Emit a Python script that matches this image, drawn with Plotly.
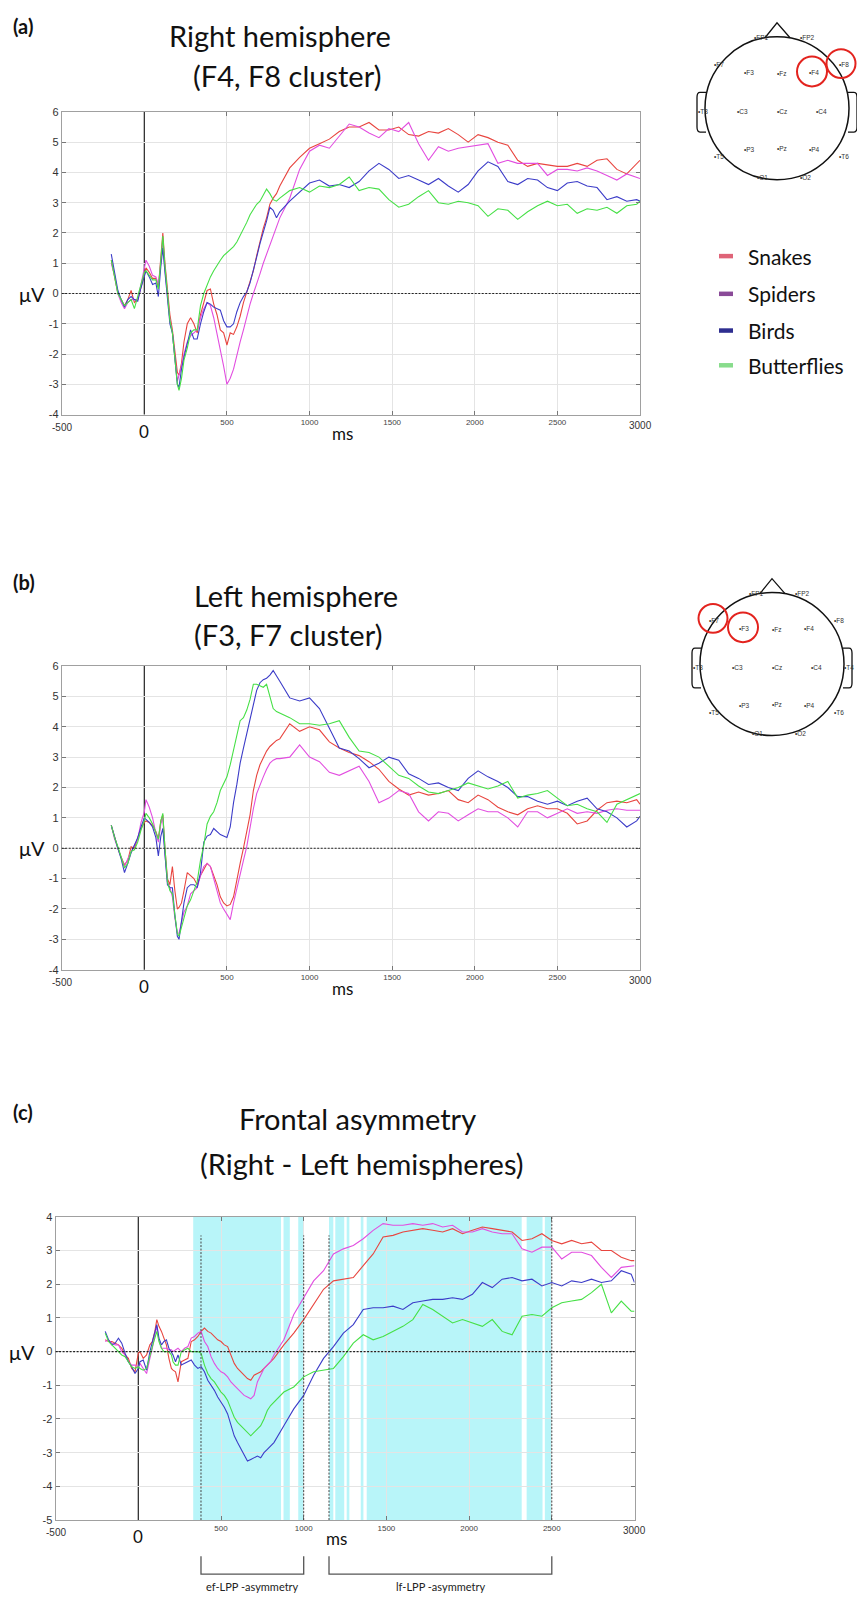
import plotly.graph_objects as go

W, H = 857, 1600
TITLE_FONT = "Lato"
TICK_FONT = "Liberation Sans"

# ---------------- data ----------------
time_ms = [-200, -180, -160, -140, -120, -100, -80, -60, -40, -20,
           0, 10, 30, 50, 70, 85, 100, 112, 125, 140, 155, 170, 185, 200, 210, 225, 240,
           260, 280, 300, 320, 340, 360, 380, 400, 420, 440, 460, 480, 500, 520, 540, 560, 580, 600,
           620, 640, 660, 680, 700, 720, 740, 760, 780, 800,
           820, 880, 940, 1000, 1060, 1120, 1180, 1240, 1300, 1360, 1420, 1480, 1540, 1600, 1660,
           1720, 1780, 1840, 1900, 1960, 2020, 2080, 2140, 2200, 2260, 2320, 2380, 2440, 2500,
           2560, 2620, 2680, 2740, 2800, 2860, 2920, 2980, 3000]

categories = ["Snakes", "Spiders", "Birds", "Butterflies"]
line_colors = ["#e8453f", "#e24ee0", "#3c3cc8", "#46e046"]
legend_colors = ["#df6478", "#8a4a98", "#2e2e90", "#88dc8c"]

# (a) Right hemisphere (F4, F8 cluster)
a_snakes = [1.1, 0.6, 0.0, -0.2, -0.4, -0.2, 0.1, -0.3, -0.2, 0.2,
            0.7, 0.85, 0.7, 0.5, 0.5, 0.2, 1.2, 2.0, 1.0, 0.1, -0.7, -1.2, -2.0, -2.6, -2.7, -2.3, -1.6,
            -1.0, -0.8, -1.0, -1.3, -0.7, -0.3, 0.1, 0.15, -0.35, -0.7, -1.2, -1.3, -1.7, -1.3, -1.35, -1.1, -0.75, -0.3,
            0.05, 0.4, 0.75, 1.25, 1.75, 2.15, 2.5, 2.95, 3.15, 3.3,
            3.55, 4.15, 4.5, 4.8, 4.95, 5.1, 5.35, 5.5, 5.5, 5.65, 5.4, 5.4, 5.5, 5.25, 5.2,
            5.35, 5.3, 5.45, 5.25, 5.0, 5.25, 5.15, 5.0, 4.9, 4.4, 4.2, 4.3, 4.25, 4.2,
            4.2, 4.3, 4.2, 4.4, 4.45, 4.1, 3.95, 4.3, 4.4]
a_spiders = [1.0, 0.6, 0.0, -0.3, -0.5, -0.3, -0.2, -0.2, -0.2, 0.3,
             0.9, 1.1, 0.9, 0.6, 0.55, 0.3, 1.0, 1.7, 0.8, 0.0, -0.9, -1.3, -2.2, -2.9, -2.7, -2.4, -2.0,
             -1.6, -1.4, -1.3, -1.2, -0.8, -0.5, -0.3, -0.4, -0.8, -1.3, -1.8, -2.4, -3.0, -2.8, -2.5, -2.0, -1.6, -1.2,
             -0.75, -0.35, 0.0, 0.3, 0.65, 1.0, 1.3, 1.6, 1.95, 2.2,
             2.5, 3.15, 4.1, 4.7, 4.9, 4.8, 5.2, 5.6, 5.5, 5.3, 5.15, 5.45, 5.35, 5.65, 4.95,
             4.4, 4.85, 4.7, 4.8, 4.85, 4.9, 4.95, 4.3, 4.4, 4.3, 4.3, 4.3, 3.9, 4.1,
             4.1, 4.05, 4.15, 4.05, 3.9, 3.75, 3.95, 3.85, 3.8]
a_birds = [1.3, 0.7, 0.1, -0.2, -0.45, -0.2, -0.1, -0.2, -0.25, 0.2,
           0.6, 0.75, 0.55, 0.3, 0.35, -0.1, 0.9, 1.5, 0.7, -0.1, -1.0, -1.3, -2.3, -3.0, -3.1, -2.5, -2.1,
           -1.6, -1.2, -1.5, -1.5, -1.0, -0.6, -0.3, -0.35, -0.45, -0.5, -0.55, -0.9, -1.1, -1.1, -1.0, -0.6, -0.3, -0.1,
           0.05, 0.35, 0.75, 1.2, 1.65, 2.0, 2.4, 2.85, 2.75, 2.5,
           2.7, 3.05, 3.35, 3.65, 3.75, 3.55, 3.6, 3.5, 3.7, 4.05, 4.3, 4.1, 3.8, 3.9, 3.75,
           3.6, 3.8, 3.55, 3.35, 3.6, 4.05, 4.35, 4.2, 3.7, 3.6, 3.8, 3.75, 3.5, 3.4,
           3.65, 3.7, 3.55, 3.5, 3.1, 3.2, 3.05, 3.1, 3.05]
a_butterflies = [1.1, 0.6, 0.0, -0.2, -0.4, -0.3, -0.2, -0.5, -0.1, 0.3,
                 0.7, 0.75, 0.6, 0.45, 0.45, 0.15, 1.1, 1.9, 0.9, 0.0, -0.9, -1.3, -2.3, -3.0, -3.2, -2.8, -2.2,
                 -1.8, -1.3, -1.2, -1.2, -0.4, 0.0, 0.3, 0.55, 0.75, 0.95, 1.1, 1.25, 1.35, 1.45, 1.55, 1.7, 1.9, 2.1,
                 2.35, 2.6, 2.8, 2.95, 3.05, 3.25, 3.45, 3.3, 3.1, 3.05,
                 3.15, 3.4, 3.5, 3.35, 3.55, 3.5, 3.6, 3.85, 3.4, 3.5, 3.45, 3.1, 2.85, 2.95, 3.2,
                 3.4, 3.0, 2.95, 3.05, 3.0, 2.9, 2.55, 2.8, 2.75, 2.45, 2.7, 2.9, 3.05, 2.9,
                 2.95, 2.65, 2.8, 2.75, 2.85, 2.65, 2.9, 2.95, 3.05]

# (b) Left hemisphere (F3, F7 cluster)
b_snakes = [0.75, 0.35, 0.0, -0.3, -0.55, -0.4, 0.05, 0.0, 0.3, 0.65,
            0.85, 0.9, 0.85, 0.75, 0.55, 0.3, 0.9, 1.1, 0.0, -1.0, -1.2, -0.6, -1.4, -2.0, -1.95, -1.8, -1.4,
            -0.8, -0.9, -1.0, -1.2, -0.9, -0.7, -0.5, -0.6, -0.9, -1.2, -1.6, -1.8, -1.9, -1.85, -1.6, -1.0, -0.5, 0.0,
            0.5, 1.1, 1.9, 2.4, 2.75, 3.0, 3.2, 3.35, 3.45, 3.55,
            3.6, 4.1, 3.85, 4.0, 3.9, 3.5, 3.3, 3.15, 3.05, 2.85, 2.6, 2.2, 1.95, 1.75, 1.85,
            1.75, 1.8, 1.9, 1.6, 1.5, 1.75, 1.6, 1.35, 1.2, 1.1, 1.3, 1.4, 1.3, 1.3,
            1.15, 0.8, 0.9, 1.25, 1.5, 1.55, 1.5, 1.6, 1.45]
b_spiders = [0.75, 0.3, 0.0, -0.3, -0.6, -0.35, -0.1, 0.1, 0.3, 0.85,
             1.2, 1.6, 1.35, 1.0, 0.5, 0.2, 0.8, 1.0, -0.2, -1.1, -1.3, -1.6, -2.3, -2.8, -2.8, -2.4, -2.1,
             -1.9, -1.5, -1.4, -1.3, -0.9, -0.6, -0.5, -0.6, -1.0, -1.4, -1.8, -2.0, -2.2, -2.35, -1.8, -1.3, -0.8, -0.4,
             0.05, 0.7, 1.3, 1.8, 2.1, 2.35, 2.6, 2.8, 2.9, 2.95,
             2.95, 3.0, 3.4, 3.0, 2.85, 2.5, 2.4, 2.55, 2.7, 2.2, 1.5, 1.65, 1.9, 1.8, 1.2,
             0.9, 1.2, 1.15, 0.9, 1.1, 1.3, 1.2, 1.2, 1.0, 0.7, 1.2, 1.2, 1.0, 1.15,
             1.3, 1.15, 1.2, 1.15, 1.25, 1.3, 1.25, 1.25, 1.25]
b_birds = [0.75, 0.35, 0.0, -0.35, -0.8, -0.5, -0.15, 0.1, 0.35, 0.7,
           1.0, 0.95, 0.85, 0.7, 0.35, -0.25, 0.4, 0.65, -0.3, -1.2, -1.3, -1.3, -2.2, -2.9, -3.0, -2.4, -1.8,
           -1.3, -1.2, -1.2, -1.3, -0.8, 0.2, 0.4, 0.45, 0.65, 0.55, 0.45, 0.4, 0.35, 0.7, 1.5, 2.1, 2.8, 3.3,
           3.75, 4.25, 4.75, 5.2, 5.45, 5.55, 5.6, 5.7, 5.85, 5.65,
           5.5, 4.95, 4.85, 4.95, 4.6, 3.95, 3.3, 3.2, 2.95, 2.65, 2.8, 3.0, 2.9, 2.45, 2.3,
           2.1, 2.15, 2.0, 1.9, 2.3, 2.55, 2.35, 2.2, 2.0, 1.7, 1.7, 1.55, 1.45, 1.55,
           1.4, 1.55, 1.65, 1.3, 1.2, 1.0, 0.7, 0.9, 1.05]
b_butterflies = [0.75, 0.35, 0.05, -0.3, -0.65, -0.5, -0.1, -0.05, 0.2, 0.6,
                 0.9, 1.15, 1.0, 0.8, 0.5, 0.3, 0.9, 1.15, 0.0, -1.1, -1.4, -1.5, -2.2, -2.8, -2.9, -2.6, -2.3,
                 -1.9, -1.7, -1.4, -1.1, -0.4, 0.1, 0.8, 1.05, 1.2, 1.5, 1.9, 2.15, 2.35, 2.75, 3.2, 3.7, 4.2, 4.3,
                 4.55, 4.9, 5.4, 5.4, 5.35, 5.3, 5.4, 5.0, 4.6, 4.5,
                 4.45, 4.3, 4.1, 4.1, 4.05, 4.1, 4.2, 3.65, 3.2, 3.15, 3.0, 2.7, 2.4, 2.3, 2.05,
                 1.85, 1.8, 1.9, 2.0, 2.15, 2.05, 1.95, 2.05, 2.2, 1.65, 1.75, 1.8, 1.9, 1.65,
                 1.4, 1.45, 1.3, 1.2, 0.85, 1.45, 1.6, 1.75, 1.8]

# (c) Frontal asymmetry (Right - Left hemispheres)
c_snakes = [0.35, 0.3, 0.3, 0.25, 0.2, 0.1, -0.1, -0.2, -0.5, -0.6,
            -0.05, 0.0, -0.2, -0.1, 0.2, 0.3, 0.6, 0.95, 0.75, 0.6, 0.4, 0.2, -0.2, -0.5, -0.55, -0.6, -0.9,
            -0.3, -0.25, -0.2, 0.3, 0.35, 0.45, 0.6, 0.7, 0.6, 0.55, 0.45, 0.35, 0.3, 0.2, 0.15, -0.1, -0.35, -0.5,
            -0.6, -0.7, -0.8, -0.85, -0.7, -0.65, -0.6, -0.5, -0.4, -0.3,
            -0.2, 0.2, 0.55, 0.95, 1.4, 1.85, 2.1, 2.15, 2.2, 2.55, 2.9, 3.4, 3.45, 3.55, 3.6,
            3.65, 3.6, 3.55, 3.65, 3.5, 3.6, 3.7, 3.65, 3.6, 3.55, 3.3, 3.35, 3.5, 3.3,
            3.2, 3.3, 3.2, 3.25, 3.0, 3.0, 2.8, 2.7, 2.7]
c_spiders = [0.3, 0.35, 0.25, 0.2, 0.2, 0.0, -0.1, -0.3, -0.4, -0.4,
             -0.45, -0.35, -0.5, -0.65, -0.2, 0.1, 0.5, 0.75, 0.35, 0.1, 0.1, 0.1, 0.05, 0.05, 0.0, 0.05, 0.1,
             0.0, 0.1, 0.15, 0.4, 0.45, 0.55, 0.6, 0.3, 0.15, -0.15, -0.35, -0.5, -0.6, -0.65, -0.75, -0.9, -1.0, -1.1,
             -1.2, -1.3, -1.35, -1.4, -1.3, -0.9, -0.7, -0.5, -0.4, -0.3,
             -0.1, 0.35, 1.1, 1.6, 2.1, 2.4, 2.9, 3.05, 3.15, 3.35, 3.6, 3.8, 3.75, 3.75, 3.8,
             3.75, 3.8, 3.7, 3.75, 3.55, 3.55, 3.65, 3.55, 3.5, 3.5, 3.05, 2.95, 3.1, 3.1,
             2.75, 2.95, 2.95, 2.85, 2.5, 2.2, 2.5, 2.55, 2.55]
c_birds = [0.6, 0.35, 0.2, 0.25, 0.4, 0.25, -0.05, -0.3, -0.45, -0.65,
           -0.5, -0.3, -0.25, -0.55, 0.0, 0.3, 0.55, 0.8, 0.4, 0.2, 0.3, 0.35, 0.1, 0.0, -0.1, -0.3, -0.1,
           -0.4, -0.35, -0.3, -0.25, -0.4, -0.5, -0.45, -0.6, -0.85, -1.0, -1.15, -1.35, -1.5, -1.65, -1.85, -2.2, -2.5, -2.7,
           -2.9, -3.1, -3.25, -3.2, -3.15, -3.1, -3.15, -3.0, -2.9, -2.8,
           -2.7, -2.2, -1.7, -1.3, -0.7, -0.2, 0.15, 0.55, 0.8, 1.25, 1.3, 1.3, 1.35, 1.25, 1.45,
           1.5, 1.55, 1.55, 1.6, 1.55, 1.7, 2.05, 1.9, 2.15, 2.2, 2.1, 2.15, 1.95, 2.05,
           1.95, 2.1, 2.05, 2.15, 2.05, 2.1, 2.4, 2.3, 2.05]
c_butterflies = [0.55, 0.3, 0.2, 0.1, 0.0, -0.1, -0.15, -0.3, -0.45, -0.5,
                 -0.45, -0.5, -0.55, -0.5, -0.1, 0.15, 0.4, 0.6, 0.3, 0.1, 0.0, 0.0, 0.0, -0.1, -0.3, -0.4, -0.4,
                 0.0, 0.05, 0.1, 0.0, 0.0, 0.0, -0.05, -0.4, -0.65, -0.8, -0.9, -1.05, -1.2, -1.3, -1.45, -1.7, -1.95, -2.1,
                 -2.2, -2.3, -2.4, -2.5, -2.4, -2.3, -2.2, -2.0, -1.75, -1.6,
                 -1.5, -1.2, -1.05, -0.75, -0.6, -0.55, -0.5, -0.15, 0.25, 0.5, 0.35, 0.45, 0.6, 0.75, 0.95,
                 1.4, 1.25, 1.05, 0.85, 0.95, 0.85, 0.75, 0.95, 0.6, 0.5, 1.05, 1.1, 1.05, 1.3,
                 1.45, 1.5, 1.55, 1.75, 2.0, 1.15, 1.5, 1.2, 1.2]

# significant right-left differences (shaded), and LPP windows (ms)
sig_intervals = [(332, 863), (878, 916), (967, 997), (1153, 1179), (1191, 1245),
                 (1260, 1276), (1345, 1361), (1381, 2318), (2348, 2444), (2458, 2500)]
ef_window = (379, 1000)
lf_window = (1153, 2500)
window_labels = ["ef-LPP -asymmetry", "lf-LPP -asymmetry"]

x_grid_vals = [-500, 500, 1000, 1500, 2000, 2500, 3000]
x_tick_text = ["", "500", "1000", "1500", "2000", "2500", ""]
y_ticks_ab = [-4, -3, -2, -1, 0, 1, 2, 3, 4, 5, 6]
y_ticks_c = [-5, -4, -3, -2, -1, 0, 1, 2, 3, 4]

all_series = [a_snakes, a_spiders, a_birds, a_butterflies,
              b_snakes, b_spiders, b_birds, b_butterflies,
              c_snakes, c_spiders, c_birds, c_butterflies]
for s in all_series:
    assert len(s) == len(time_ms), len(s)


# ---------------- helpers (pixel -> paper) ----------------
def PX(x):
    return x / W


def PY(y):
    return 1 - y / H


panels = [
    dict(tag="(a)", title=["Right hemisphere", "(F4, F8 cluster)"], tx=[280, 287], ty=[30, 70], tagy=20,
         xs="x", ys="y", xd=(61.7, 640.0), yd=(106.7, 411.7), yr=(-4, 6), yt=y_ticks_ab,
         data=[a_snakes, a_spiders, a_birds, a_butterflies], mux=32),
    dict(tag="(b)", title=["Left hemisphere", "(F3, F7 cluster)"], tx=[296, 288], ty=[594, 633], tagy=580,
         xs="x2", ys="y2", xd=(61.7, 640.0), yd=(665.0, 971.0), yr=(-4, 6), yt=y_ticks_ab,
         data=[b_snakes, b_spiders, b_birds, b_butterflies], mux=32),
    dict(tag="(c)", title=["Frontal asymmetry", "(Right - Left hemispheres)"], tx=[357, 362], ty=[1121, 1166], tagy=1114,
         xs="x3", ys="y3", xd=(55.6, 634.5), yd=(1220.0, 1525.5), yr=(-5, 4), yt=y_ticks_c,
         data=[c_snakes, c_spiders, c_birds, c_butterflies], mux=22),
]

fig = go.Figure()
shapes = []
annotations = []
layout_axes = {}

for p in panels:
    xs, ys = p["xs"], p["ys"]
    for name, vals, col in zip(categories, p["data"], line_colors):
        fig.add_trace(go.Scatter(x=time_ms, y=vals, mode="lines", name=name,
                                 line=dict(color=col, width=1.1),
                                 xaxis=xs, yaxis=ys, hoverinfo="skip", showlegend=False))
    xk = "xaxis" if xs == "x" else "xaxis" + xs[1:]
    yk = "yaxis" if ys == "y" else "yaxis" + ys[1:]
    layout_axes[xk] = dict(domain=[PX(p["xd"][0]), PX(p["xd"][1])], range=[-500, 3000], anchor=ys,
                           tickmode="array", tickvals=x_grid_vals, ticktext=x_tick_text,
                           tickfont=dict(size=8, color="#444", family=TICK_FONT),
                           showgrid=True, gridcolor="#e4e4e4", gridwidth=1, zeroline=False,
                           showline=True, linecolor="#a0a0a0", linewidth=1, mirror="ticks",
                           ticks="inside", ticklen=4, tickcolor="#777", fixedrange=True)
    layout_axes[yk] = dict(domain=[PY(p["yd"][1]), PY(p["yd"][0])], range=list(p["yr"]), anchor=xs,
                           tickmode="array", tickvals=p["yt"], ticktext=[str(v) for v in p["yt"]],
                           tickfont=dict(size=11, color="#333", family=TICK_FONT),
                           showgrid=True, gridcolor="#e4e4e4", gridwidth=1, zeroline=False,
                           showline=True, linecolor="#a0a0a0", linewidth=1, mirror="ticks",
                           ticks="inside", ticklen=4, tickcolor="#777", fixedrange=True)

    if p["tag"] == "(c)":
        for (s0, s1) in sig_intervals:
            shapes.append(dict(type="rect", xref=xs, yref=ys + " domain", x0=s0, x1=s1, y0=0, y1=1,
                               fillcolor="#b8f5f9", line=dict(width=0), layer="below"))
        for xv in [ef_window[0], ef_window[1], lf_window[0]]:
            shapes.append(dict(type="line", xref=xs, yref=ys, x0=xv, x1=xv, y0=p["yr"][0], y1=3.45,
                               line=dict(color="#444", width=1, dash="2px,1.5px"), layer="above"))
        shapes.append(dict(type="line", xref=xs, yref=ys, x0=lf_window[1], x1=lf_window[1],
                           y0=p["yr"][0], y1=p["yr"][1], line=dict(color="#444", width=1, dash="2px,1.5px"),
                           layer="above"))
        # brackets
        for (w0, w1), lab in zip([ef_window, lf_window], window_labels):
            shapes.append(dict(type="path", xref=xs, yref="paper",
                               path=f"M {w0},{PY(1562)} L {w0},{PY(1580)} L {w1},{PY(1580)} L {w1},{PY(1562)}",
                               line=dict(color="#555", width=1.3)))
            annotations.append(dict(text=lab, xref=xs, yref="paper", x=(w0 + w1) / 2, y=PY(1592),
                                    showarrow=False, xanchor="center", yanchor="middle",
                                    font=dict(size=11, color="#222", family=TITLE_FONT)))

    # zero lines
    shapes.append(dict(type="line", xref=xs + " domain", yref=ys, x0=0, x1=1, y0=0, y1=0,
                       line=dict(color="#222", width=1.1, dash="2px,1.5px"), layer="above"))
    shapes.append(dict(type="line", xref=xs, yref=ys + " domain", x0=0, x1=0, y0=0, y1=1,
                       line=dict(color="#222", width=1.2), layer="below"))

    bottom = p["yd"][1]
    annotations += [
        dict(text="0", xref=xs, yref="paper", x=0, y=PY(bottom + 17), showarrow=False,
             xanchor="center", yanchor="middle", font=dict(size=17, color="#111", family=TITLE_FONT)),
        dict(text="ms", xref=xs, yref="paper", x=1200, y=PY(bottom + 19), showarrow=False,
             xanchor="center", yanchor="middle", font=dict(size=17, color="#111", family=TITLE_FONT)),
        dict(text="-500", xref=xs, yref="paper", x=-500, y=PY(bottom + 13), showarrow=False,
             xanchor="center", yanchor="middle", font=dict(size=10, color="#333", family=TICK_FONT)),
        dict(text="3000", xref=xs, yref="paper", x=3000, y=PY(bottom + 11), showarrow=False,
             xanchor="center", yanchor="middle", font=dict(size=10, color="#333", family=TICK_FONT)),
        dict(text="μV", xref="paper", yref=ys, x=PX(p["mux"]), y=0, showarrow=False,
             xanchor="center", yanchor="middle", font=dict(size=20, color="#111", family=TITLE_FONT)),
        dict(text="<b>" + p["tag"] + "</b>", xref="paper", yref="paper", x=PX(11), y=PY(p["tagy"]),
             showarrow=False, xanchor="left", yanchor="middle",
             font=dict(size=20, color="#111", family=TITLE_FONT)),
    ]
    for line_txt, tx, ty in zip(p["title"], p["tx"], p["ty"]):
        annotations.append(dict(text=line_txt, xref="paper", yref="paper", x=PX(tx), y=PY(ty),
                                showarrow=False, xanchor="center", yanchor="middle",
                                font=dict(size=29, color="#111", family=TITLE_FONT)))

# ---------------- legend (custom) ----------------
legend_y = [252, 290, 327, 362]
for name, col, ly in zip(categories, legend_colors, legend_y):
    shapes.append(dict(type="line", xref="paper", yref="paper", x0=PX(719), x1=PX(733),
                       y0=PY(ly), y1=PY(ly), line=dict(color=col, width=4.5)))
    annotations.append(dict(text=name, xref="paper", yref="paper", x=PX(746), y=PY(ly),
                            showarrow=False, xanchor="left", yanchor="middle",
                            font=dict(size=21, color="#111", family=TITLE_FONT)))

# ---------------- head diagrams ----------------
electrodes = [("FP1", -23, -71), ("FP2", 23, -71), ("F7", -63, -44), ("F3", -33, -36), ("Fz", 0, -35),
              ("F4", 32, -36), ("F8", 62, -44), ("T3", -79, 3), ("C3", -40, 3), ("Cz", 0, 3),
              ("C4", 39, 3), ("T4", 79, 3), ("T5", -63, 49), ("P3", -33, 42), ("Pz", 0, 41),
              ("P4", 32, 42), ("T6", 62, 49), ("O1", -20, 70), ("O2", 23, 70)]
heads = [dict(cx=777, cy=103, marks=[(35, -37, 15), (64, -45, 14.5)], hidden=["T4"]),
         dict(cx=772, cy=663, marks=[(-59, -46, 14.5), (-29, -37, 15)], hidden=[])]
R = 72
for hd in heads:
    cx, cy = hd["cx"], hd["cy"]
    shapes.append(dict(type="circle", xref="paper", yref="paper",
                       x0=PX(cx - R), x1=PX(cx + R), y0=PY(cy + R), y1=PY(cy - R),
                       line=dict(color="#111", width=1.5)))
    # nose
    shapes.append(dict(type="path", xref="paper", yref="paper",
                       path=f"M {PX(cx-12)},{PY(cy-71)} L {PX(cx)},{PY(cy-86)} L {PX(cx+13)},{PY(cy-71)}",
                       line=dict(color="#111", width=1.3)))
    # ears
    for sgn in (-1, 1):
        xo = cx + sgn * (R - 1)
        xe = cx + sgn * (R + 8)
        xm = cx + sgn * (R + 5)
        path = (f"M {PX(xo)},{PY(cy-16)} L {PX(xm)},{PY(cy-16)} Q {PX(xe)},{PY(cy-16)} {PX(xe)},{PY(cy-11)} "
                f"L {PX(xe)},{PY(cy+19)} Q {PX(xe)},{PY(cy+24)} {PX(xm)},{PY(cy+24)} L {PX(xo)},{PY(cy+24)}")
        shapes.append(dict(type="path", xref="paper", yref="paper", path=path,
                           line=dict(color="#111", width=1.3)))
    for (nm, dx, dy) in electrodes:
        if nm in hd["hidden"]:
            continue
        x_left = cx + dx - 2
        if x_left + 12 > W - 1:
            annotations.append(dict(text="•" + nm, xref="paper", yref="paper", x=PX(W - 1), y=PY(cy + dy),
                                    showarrow=False, xanchor="right", yanchor="middle",
                                    font=dict(size=6.5, color="#333", family=TICK_FONT)))
        else:
            annotations.append(dict(text="•" + nm, xref="paper", yref="paper", x=PX(x_left), y=PY(cy + dy),
                                    showarrow=False, xanchor="left", yanchor="middle",
                                    font=dict(size=6.5, color="#333", family=TICK_FONT)))
    for (dx, dy, r) in hd["marks"]:
        shapes.append(dict(type="circle", xref="paper", yref="paper",
                           x0=PX(cx + dx - r), x1=PX(cx + dx + r), y0=PY(cy + dy + r), y1=PY(cy + dy - r),
                           line=dict(color="#e3231e", width=2)))

fig.update_layout(width=W, height=H, margin=dict(l=0, r=0, t=0, b=0),
                  paper_bgcolor="white", plot_bgcolor="white", showlegend=False,
                  font=dict(family=TITLE_FONT), shapes=shapes, annotations=annotations, **layout_axes)

fig.write_html("out.html", config={"displayModeBar": False},
               post_script="document.body.style.margin='0px';")
